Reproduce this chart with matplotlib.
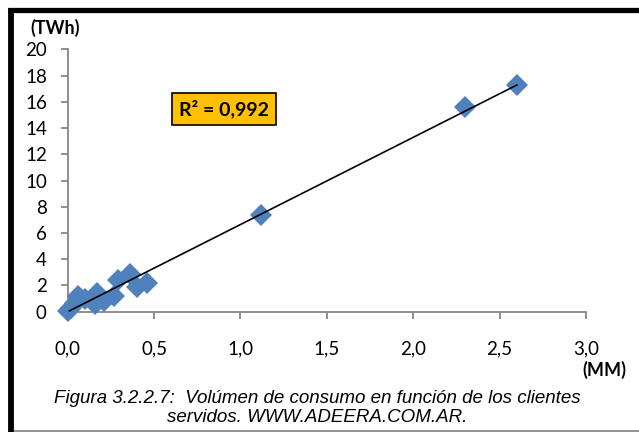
import numpy as np
import matplotlib
matplotlib.use("Agg")
import matplotlib.pyplot as plt
from matplotlib import font_manager
from matplotlib.lines import Line2D

# Clients served (millions) vs. energy consumption (TWh)
clientes_mm = [0.00, 0.02, 0.04, 0.06, 0.10, 0.16, 0.17, 0.21, 0.27, 0.29,
               0.36, 0.40, 0.46, 1.12, 2.30, 2.60]
consumo_twh = [0.05, 0.30, 0.70, 1.20, 1.00, 0.55, 1.45, 0.80, 1.20, 2.45,
               2.85, 1.90, 2.15, 7.40, 15.60, 17.25]
r2_text = "R² = 0,992"
x_ticks = [0.0, 0.5, 1.0, 1.5, 2.0, 2.5, 3.0]
y_ticks = list(range(0, 21, 2))
caption = ("Figura 3.2.2.7:  Volúmen de consumo en función de los clientes\n"
           "servidos. WWW.ADEERA.COM.AR.")

available = {f.name for f in font_manager.fontManager.ttflist}
tick_font = "Lato" if "Lato" in available else "DejaVu Sans"
cap_font = ("Liberation Sans Narrow" if "Liberation Sans Narrow" in available
            else "Liberation Sans")

W, H = 639, 432
fig = plt.figure(figsize=(W / 100, H / 100), dpi=100)
fig.patch.set_facecolor("white")

def fx(px):
    return px / W

def fy(py):
    return 1 - py / H

ax = fig.add_axes([fx(67.7), fy(311.7), fx(586) - fx(67.7), fy(49.3) - fy(311.7)])
ax.set_xlim(0, 3.0)
ax.set_ylim(0, 20)

axis_gray = "#868686"
for side in ("top", "right"):
    ax.spines[side].set_visible(False)
for side in ("left", "bottom"):
    ax.spines[side].set_color(axis_gray)
    ax.spines[side].set_linewidth(1.3)

ax.set_xticks(x_ticks)
ax.set_xticklabels([f"{v:.1f}".replace(".", ",") for v in x_ticks])
ax.set_yticks(y_ticks)
ax.set_yticklabels([str(v) for v in y_ticks])
ax.tick_params(axis="both", colors=axis_gray, length=5, width=1.3,
               labelcolor="black", labelsize=13.5)
ax.tick_params(axis="x", pad=16)
ax.tick_params(axis="y", pad=10)
for lab in ax.get_xticklabels() + ax.get_yticklabels():
    lab.set_fontfamily(tick_font)

# Scatter of distribution companies
ax.plot(clientes_mm, consumo_twh, linestyle="none", marker="D",
        markersize=11, color="#4F81BD", markeredgewidth=0, zorder=3,
        clip_on=False)

# Linear trend line
xs = np.array(clientes_mm)
ys = np.array(consumo_twh)
slope, intercept = np.polyfit(xs, ys, 1)
xl = np.array([xs.min() + 0.01, xs.max()])
ax.plot(xl, slope * xl + intercept, color="black", linewidth=1.2, zorder=4)

# R² annotation box
ax.text(0.905, 15.45, r2_text, fontsize=14, fontweight="bold",
        fontfamily=tick_font, ha="center", va="center", zorder=5,
        bbox=dict(boxstyle="square,pad=0.35", facecolor="#FFC000",
                  edgecolor="black", linewidth=1.2))

# Axis unit labels
fig.text(fx(55), fy(28), "(TWh)", fontsize=13, fontweight="bold",
         fontfamily=tick_font, ha="center", va="center")
fig.text(fx(604), fy(370), "(MM)", fontsize=13, fontweight="bold",
         fontfamily=tick_font, ha="center", va="center")

# Caption
fig.text(fx(317), fy(408), caption, fontsize=13.5, fontstyle="italic",
         fontfamily=cap_font, ha="center", va="center", multialignment="center",
         linespacing=1.1)

# Outer frame: heavy black top/left, thin gray bottom
fig.add_artist(Line2D([fx(8), fx(639)], [fy(9.5), fy(9.5)], color="black",
                      linewidth=3.8, solid_capstyle="butt"))
fig.add_artist(Line2D([fx(11), fx(11)], [fy(7.5), fy(432)], color="black",
                      linewidth=4.2, solid_capstyle="butt"))
fig.add_artist(Line2D([fx(14), fx(639)], [fy(430.5), fy(430.5)],
                      color="#7f7f7f", linewidth=1.2, solid_capstyle="butt"))

fig.savefig("out.png", dpi=100, facecolor="white")
